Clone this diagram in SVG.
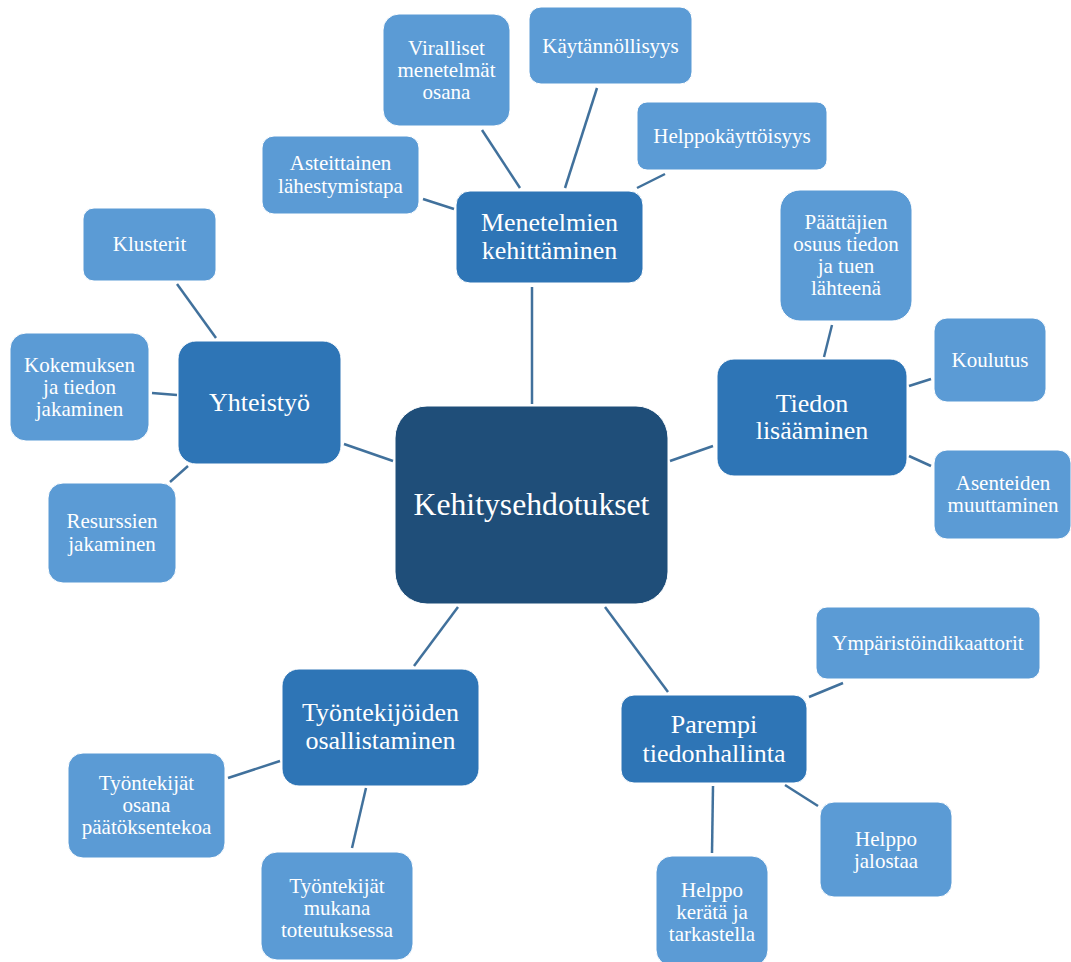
<svg xmlns="http://www.w3.org/2000/svg" width="1071" height="962" viewBox="0 0 1071 962">
  <style>
    text { font-family: "Liberation Serif", Tinos, "Times New Roman", "DejaVu Serif", serif; fill: #ffffff; text-anchor: middle; }
    .root rect { fill: #1f4e79; stroke: #ffffff; stroke-width: 1; }
    .mid rect { fill: #2e75b6; stroke: #ffffff; stroke-width: 1; }
    .leaf rect { fill: #5b9bd5; stroke: #ffffff; stroke-width: 1; }
    .root text { font-size: 31.7px; }
    .mid text { font-size: 26px; }
    .leaf text { font-size: 21px; }
    #connectors line { stroke: #41719c; stroke-width: 2.5; }
  </style>
  <rect width="1071" height="962" fill="#ffffff"/>

  <g id="connectors">
    <!-- root to branches -->
    <line x1="532" y1="287" x2="532" y2="404"/>
    <line x1="344" y1="444" x2="393" y2="461"/>
    <line x1="713" y1="446" x2="670" y2="461"/>
    <line x1="458" y1="607" x2="414" y2="666"/>
    <line x1="605" y1="607" x2="668" y2="692"/>
    <!-- Menetelmien kehittäminen -->
    <line x1="482" y1="130" x2="520" y2="188"/>
    <line x1="597" y1="88" x2="565" y2="188"/>
    <line x1="665" y1="174" x2="637" y2="188"/>
    <line x1="423" y1="199" x2="454" y2="209"/>
    <!-- Yhteistyö -->
    <line x1="177" y1="284" x2="216" y2="338"/>
    <line x1="152" y1="393" x2="177" y2="395"/>
    <line x1="170" y1="482" x2="188" y2="466"/>
    <!-- Tiedon lisääminen -->
    <line x1="832" y1="325" x2="824" y2="357"/>
    <line x1="931" y1="379" x2="909" y2="386"/>
    <line x1="909" y1="456" x2="931" y2="466"/>
    <!-- Työntekijöiden osallistaminen -->
    <line x1="228" y1="778" x2="280" y2="761"/>
    <line x1="366" y1="788" x2="352" y2="848"/>
    <!-- Parempi tiedonhallinta -->
    <line x1="843" y1="683" x2="809" y2="697"/>
    <line x1="785" y1="785" x2="818" y2="806"/>
    <line x1="713" y1="786" x2="712" y2="853"/>
  </g>

  <g id="kehitysehdotukset" class="root">
    <rect x="395" y="406" width="273" height="198" rx="32"/>
    <text x="531.5" y="515">Kehitysehdotukset</text>
  </g>

  <g id="menetelmien-kehittaminen" class="mid">
    <rect x="456" y="191" width="187" height="92" rx="14"/>
    <text x="549.5" y="231">Menetelmien</text>
    <text x="549.5" y="259">kehittäminen</text>
  </g>
  <g id="viralliset" class="leaf">
    <rect x="383" y="14" width="127" height="112" rx="16"/>
    <text x="446.5" y="55">Viralliset</text>
    <text x="446.5" y="77">menetelmät</text>
    <text x="446.5" y="99">osana</text>
  </g>
  <g id="kaytannollisyys" class="leaf">
    <rect x="529" y="7" width="163" height="77" rx="12"/>
    <text x="610.5" y="53">Käytännöllisyys</text>
  </g>
  <g id="helppokayttoisyys" class="leaf">
    <rect x="637" y="102" width="190" height="68" rx="10"/>
    <text x="732" y="143">Helppokäyttöisyys</text>
  </g>
  <g id="asteittainen" class="leaf">
    <rect x="262" y="136" width="157" height="78" rx="12"/>
    <text x="340.5" y="170">Asteittainen</text>
    <text x="340.5" y="193">lähestymistapa</text>
  </g>

  <g id="yhteistyo" class="mid">
    <rect x="178" y="341" width="163" height="123" rx="18"/>
    <text x="259.5" y="411">Yhteistyö</text>
  </g>
  <g id="klusterit" class="leaf">
    <rect x="83" y="208" width="133" height="73" rx="11"/>
    <text x="149.5" y="251">Klusterit</text>
  </g>
  <g id="kokemuksen" class="leaf">
    <rect x="10" y="333" width="139" height="108" rx="16"/>
    <text x="79.5" y="372">Kokemuksen</text>
    <text x="79.5" y="394">ja tiedon</text>
    <text x="79.5" y="416">jakaminen</text>
  </g>
  <g id="resurssien" class="leaf">
    <rect x="48" y="483" width="128" height="100" rx="15"/>
    <text x="112" y="528">Resurssien</text>
    <text x="112" y="551">jakaminen</text>
  </g>

  <g id="tiedon-lisaaminen" class="mid">
    <rect x="717" y="359" width="190" height="117" rx="17"/>
    <text x="812" y="412">Tiedon</text>
    <text x="812" y="439">lisääminen</text>
  </g>
  <g id="paattajien" class="leaf">
    <rect x="780" y="190" width="132" height="131" rx="20"/>
    <text x="846" y="229">Päättäjien</text>
    <text x="846" y="251">osuus tiedon</text>
    <text x="846" y="273">ja tuen</text>
    <text x="846" y="295">lähteenä</text>
  </g>
  <g id="koulutus" class="leaf">
    <rect x="934" y="318" width="112" height="84" rx="13"/>
    <text x="990" y="367">Koulutus</text>
  </g>
  <g id="asenteiden" class="leaf">
    <rect x="934" y="450" width="137" height="89" rx="13"/>
    <text x="1003" y="490">Asenteiden</text>
    <text x="1003" y="512">muuttaminen</text>
  </g>

  <g id="tyontekijoiden-osallistaminen" class="mid">
    <rect x="282" y="669" width="197" height="117" rx="17"/>
    <text x="380.5" y="721">Työntekijöiden</text>
    <text x="380.5" y="749">osallistaminen</text>
  </g>
  <g id="paatoksentekoa" class="leaf">
    <rect x="68" y="753" width="157" height="105" rx="15"/>
    <text x="146.5" y="790">Työntekijät</text>
    <text x="146.5" y="812">osana</text>
    <text x="146.5" y="834">päätöksentekoa</text>
  </g>
  <g id="toteutuksessa" class="leaf">
    <rect x="261" y="852" width="152" height="108" rx="16"/>
    <text x="337" y="893">Työntekijät</text>
    <text x="337" y="915">mukana</text>
    <text x="337" y="937">toteutuksessa</text>
  </g>

  <g id="parempi-tiedonhallinta" class="mid">
    <rect x="621" y="695" width="186" height="88" rx="13"/>
    <text x="714" y="733">Parempi</text>
    <text x="714" y="762">tiedonhallinta</text>
  </g>
  <g id="ymparistoindikaattorit" class="leaf">
    <rect x="816" y="607" width="224" height="72" rx="11"/>
    <text x="928" y="650">Ympäristöindikaattorit</text>
  </g>
  <g id="helppo-jalostaa" class="leaf">
    <rect x="820" y="802" width="132" height="95" rx="14"/>
    <text x="886" y="846">Helppo</text>
    <text x="886" y="868">jalostaa</text>
  </g>
  <g id="helppo-kerata" class="leaf">
    <rect x="656" y="856" width="112" height="110" rx="16"/>
    <text x="712" y="897">Helppo</text>
    <text x="712" y="919">kerätä ja</text>
    <text x="712" y="941">tarkastella</text>
  </g>
</svg>
